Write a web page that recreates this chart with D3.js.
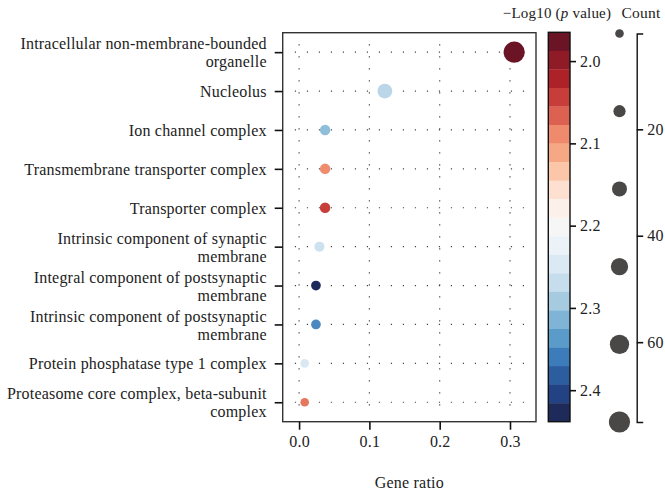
<!DOCTYPE html>
<html>
<head>
<meta charset="utf-8">
<script src="https://cdn.jsdelivr.net/npm/d3@7"></script>
<style>
  body { margin: 0; background: #fff; }
  text { font-family: "Liberation Serif", "Times New Roman", serif; fill: #222; letter-spacing: 0.2px; }
</style>
</head>
<body>
<svg id="chart" width="665" height="497"></svg>
<script>
// GO terms, top to bottom ("\n" = line break in the label)
const terms = [
  "Intracellular non-membrane-bounded\norganelle",
  "Nucleolus",
  "Ion channel complex",
  "Transmembrane transporter complex",
  "Transporter complex",
  "Intrinsic component of synaptic\nmembrane",
  "Integral component of postsynaptic\nmembrane",
  "Intrinsic component of postsynaptic\nmembrane",
  "Protein phosphatase type 1 complex",
  "Proteasome core complex, beta-subunit\ncomplex"
];
const geneRatio = [0.306, 0.122, 0.037, 0.037, 0.037, 0.029, 0.024, 0.024, 0.008, 0.008];
const geneCount = [75, 30, 9, 9, 9, 7, 6, 6, 2, 2];
const negLogP   = [1.968, 2.278, 2.305, 2.090, 2.044, 2.262, 2.436, 2.350, 2.248, 2.078];

const xTicks = [0, 0.1, 0.2, 0.3];
const colorTicks = [2.0, 2.1, 2.2, 2.3, 2.4];
const countTicks = [20, 40, 60];
const pRange = [1.965, 2.4383];
const countRange = [2, 75];

// stepped palette of the colour bar (style, top to bottom)
const palette = ["#6b1426", "#8e1b25", "#ad2229", "#c63d39", "#dc6151", "#ef8b6c", "#f6a885",
  "#fcc6a9", "#fde0cf", "#fcf1ea", "#f6f6f6", "#ebf3f8", "#dbe9f4", "#c6dded", "#a6cbe1",
  "#7fb4d6", "#5b9bc9", "#3d7cba", "#2c5d9f", "#234283", "#1e2b5a"];

const svg = d3.select("#chart");
const plot = { left: 282.7, right: 536, top: 32.7, bottom: 421.7 };
const fontSize = 16;

const x = d3.scaleLinear().domain([-0.0233, 0.337]).range([plot.left, plot.right]);
const y = d3.scalePoint().domain(terms).range([plot.top, plot.bottom]).padding(0.5);

const step = (pRange[1] - pRange[0]) / palette.length;
const color = d3.scaleLinear()
  .domain(palette.map((c, i) => pRange[0] + (i + 0.5) * step))
  .range(palette)
  .clamp(true);
const size = d3.scaleRadial().domain(countRange).range([4.3, 10.6]);

const data = terms.map((t, i) => ({ term: t, ratio: geneRatio[i], count: geneCount[i], p: negLogP[i] }));

// dotted grid
const grid = svg.append("g").attr("stroke", "#444").attr("stroke-width", 1.2)
  .attr("stroke-dasharray", "1.2 10.8");
grid.selectAll(".vg").data(xTicks).join("line")
  .attr("x1", d => x(d)).attr("x2", d => x(d))
  .attr("y1", y(terms[0]) - y.step() * 0.2).attr("y2", y(terms[terms.length - 1]) + y.step() * 0.35);
grid.selectAll(".hg").data(terms).join("line")
  .attr("y1", d => y(d)).attr("y2", d => y(d))
  .attr("x1", x(-0.006)).attr("x2", x(0.32));

// dots
svg.append("g").selectAll("circle").data(data).join("circle")
  .attr("cx", d => x(d.ratio))
  .attr("cy", d => y(d.term))
  .attr("r", d => size(d.count))
  .attr("fill", d => color(d.p));

// frame
svg.append("rect")
  .attr("x", plot.left).attr("y", plot.top)
  .attr("width", plot.right - plot.left).attr("height", plot.bottom - plot.top)
  .attr("fill", "none").attr("stroke", "#333").attr("stroke-width", 1.4);

// x axis
const xAxis = svg.append("g").attr("transform", `translate(0,${plot.bottom})`)
  .call(d3.axisBottom(x).tickValues(xTicks).tickFormat(d3.format(".1f")).tickSize(8).tickPadding(6));
xAxis.select(".domain").remove();
xAxis.selectAll(".tick line").attr("stroke", "#111").attr("stroke-width", 1.6);
xAxis.selectAll("text").attr("font-size", fontSize).attr("font-family", null);

// y axis
const yAxis = svg.append("g").attr("transform", `translate(${plot.left},0)`)
  .call(d3.axisLeft(y).tickSize(8).tickPadding(8));
yAxis.select(".domain").remove();
yAxis.selectAll(".tick line").attr("stroke", "#111").attr("stroke-width", 1.6);
yAxis.selectAll("text").attr("font-size", fontSize).attr("font-family", null)
  .each(function(d) {
    const lines = d.split("\n");
    const t = d3.select(this).text(null).attr("dy", null);
    lines.forEach((ln, i) => {
      t.append("tspan").attr("x", -16)
        .attr("y", (i - (lines.length - 1) / 2) * 18)
        .attr("dy", "0.35em").text(ln);
    });
  });

svg.append("text").attr("x", (plot.left + plot.right) / 2).attr("y", 488)
  .attr("text-anchor", "middle").attr("font-size", fontSize).text("Gene ratio");

// colour bar
const bar = { left: 548.3, right: 570 };
const cy = d3.scaleLinear().domain(pRange).range([32.3, 421.7]);
svg.append("g").selectAll("rect").data(palette).join("rect")
  .attr("x", bar.left).attr("width", bar.right - bar.left)
  .attr("y", (c, i) => cy(pRange[0] + i * step))
  .attr("height", cy(pRange[0] + step) - cy(pRange[0]) + 0.3)
  .attr("fill", c => c);
svg.append("rect").attr("x", bar.left).attr("y", cy(pRange[0]))
  .attr("width", bar.right - bar.left).attr("height", cy(pRange[1]) - cy(pRange[0]))
  .attr("fill", "none").attr("stroke", "#111").attr("stroke-width", 1.4);
const cAxis = svg.append("g").attr("transform", `translate(${bar.right},0)`)
  .call(d3.axisRight(cy).tickValues(colorTicks).tickFormat(d3.format(".1f")).tickSize(6).tickPadding(4));
cAxis.select(".domain").remove();
cAxis.selectAll(".tick line").attr("stroke", "#111").attr("stroke-width", 1.6);
cAxis.selectAll("text").attr("font-size", fontSize).attr("font-family", null);

const ct = svg.append("text").attr("x", 557).attr("y", 18).attr("text-anchor", "middle").attr("font-size", 15);
ct.append("tspan").text("\u2212Log10 (");
ct.append("tspan").attr("font-style", "italic").text("p");
ct.append("tspan").text(" value)");

// count legend
const legendCounts = d3.range(6).map(i => countRange[0] + i * (countRange[1] - countRange[0]) / 5);
const ly = d3.scaleLinear().domain(countRange).range([33.5, 422]);
svg.append("g").selectAll("circle").data(legendCounts).join("circle")
  .attr("cx", 619.5).attr("cy", d => ly(d)).attr("r", d => size(d)).attr("fill", "#4a4747");
const lAxis = svg.append("g").attr("transform", "translate(636.7,0)")
  .call(d3.axisRight(ly).tickValues(countTicks).tickSize(6.5).tickSizeOuter(6.5).tickPadding(4));
lAxis.select(".domain").attr("stroke", "#111").attr("stroke-width", 1.4);
lAxis.selectAll(".tick line").attr("stroke", "#111").attr("stroke-width", 1.6);
lAxis.selectAll("text").attr("font-size", fontSize).attr("font-family", null);
svg.append("text").attr("x", 641).attr("y", 18).attr("text-anchor", "middle").attr("font-size", 15.5).text("Count");
</script>
</body>
</html>
